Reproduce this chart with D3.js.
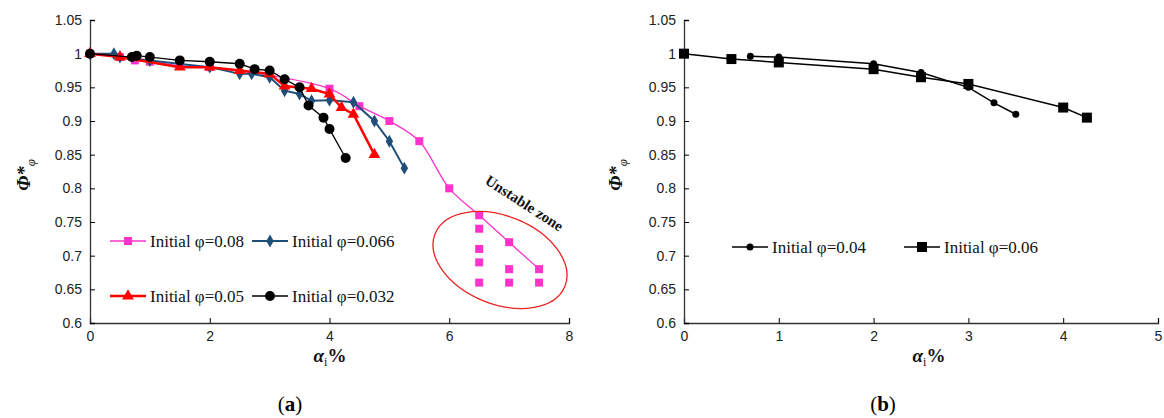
<!DOCTYPE html><html><head><meta charset="utf-8"><script src="https://cdn.jsdelivr.net/npm/d3@7"></script>
<style>body{margin:0;background:#fff}.tick text{font-family:"Liberation Sans",Arial,sans-serif}.serif{font-family:"Liberation Serif","Times New Roman",serif}</style></head><body><svg id="c" width="1164" height="418"></svg>
<script>
const yTicks=[0.6,0.65,0.7,0.75,0.8,0.85,0.9,0.95,1,1.05];
const xTicksA=[0,2,4,6,8], xTicksB=[0,1,2,3,4,5];
const s08=[[0,1],[0.5,0.995],[0.75,0.99],[1,0.988],[1.5,0.982],[2,0.98],[4,0.948],[4.5,0.922],[5,0.9],[5.5,0.87],[6,0.8],[6.5,0.76],[7,0.72],[7.5,0.68]];
const s08unstable=[[6.5,0.74],[6.5,0.71],[6.5,0.69],[6.5,0.66],[7,0.68],[7,0.66],[7.5,0.66]];
const s066=[[0,1],[0.4,1.0],[0.5,0.995],[1,0.99],[2,0.98],[2.5,0.97],[2.7,0.97],[3,0.965],[3.25,0.945],[3.5,0.94],[3.7,0.93],[4,0.931],[4.4,0.928],[4.75,0.9],[5,0.87],[5.25,0.83]];
const s05=[[0,1],[0.5,0.995],[1.5,0.98],[2,0.98],[2.5,0.975],[3,0.97],[3.25,0.952],[3.7,0.948],[4,0.94],[4.2,0.92],[4.4,0.91],[4.75,0.85]];
const s032=[[0,1],[0.7,0.995],[0.78,0.997],[1,0.995],[1.5,0.99],[2,0.988],[2.5,0.985],[2.75,0.977],[3,0.975],[3.25,0.962],[3.5,0.95],[3.65,0.923],[3.9,0.905],[4,0.888],[4.27,0.845]];
const b04=[[0.7,0.996],[1,0.995],[2,0.985],[2.5,0.972],[3,0.95],[3.27,0.927],[3.5,0.91]];
const b06=[[0,1],[0.5,0.992],[1,0.987],[2,0.977],[2.5,0.965],[3,0.955],[4,0.92],[4.25,0.905]];
const svg=d3.select("#c");
const y=d3.scaleLinear().domain([0.6,1.05]).range([323,20]);
function axes(x,xt){
  svg.append("g").attr("transform","translate(0,323)").call(d3.axisBottom(x).tickValues(xt).tickSize(-5).tickPadding(8).tickFormat(d3.format("d")))
   .call(g=>{g.select(".domain").attr("stroke","#333").attr("stroke-width",1.3);g.selectAll("text").attr("font-size",14).attr("fill","#222")});
  svg.append("g").attr("transform",`translate(${x(0)},0)`).call(d3.axisLeft(y).tickValues(yTicks).tickSize(-5).tickPadding(8).tickFormat(d=>d===1?"1":d3.format(".2f")(d).replace(/(\.\d)0$/,"$1")))
   .call(g=>{g.select(".domain").attr("stroke","#333").attr("stroke-width",1.3);g.selectAll("text").attr("font-size",14).attr("fill","#222")});
}
function marker(g,type,px,py,color,sz){
  if(type==="sq")g.append("rect").attr("x",px-sz/2).attr("y",py-sz/2).attr("width",sz).attr("height",sz).attr("fill",color);
  else if(type==="ci")g.append("circle").attr("cx",px).attr("cy",py).attr("r",sz/2).attr("fill",color);
  else if(type==="tri")g.append("path").attr("d",d3.symbol(d3.symbolTriangle,sz*sz*0.6)()).attr("transform",`translate(${px},${py})`).attr("fill",color);
  else if(type==="di")g.append("path").attr("d",d3.symbol(d3.symbolDiamond,sz*sz*0.6)()).attr("transform",`translate(${px},${py})`).attr("fill",color);
}
function series(x,data,color,type,sz,lw,curve){
  const g=svg.append("g");
  g.append("path").datum(data).attr("d",d3.line().x(d=>x(d[0])).y(d=>y(d[1])).curve(curve||d3.curveLinear)).attr("fill","none").attr("stroke",color).attr("stroke-width",lw);
  data.forEach(d=>marker(g,type,x(d[0]),y(d[1]),color,sz));
}
function legend(x0,yy,text,color,type,sz,lw){
  const g=svg.append("g");
  g.append("line").attr("x1",x0).attr("x2",x0+36).attr("y1",yy).attr("y2",yy).attr("stroke",color).attr("stroke-width",lw);
  marker(g,type,x0+18,yy,color,sz);
  g.append("text").attr("class","serif").attr("x",x0+40).attr("y",yy+6).text(text).attr("font-size",17).attr("fill","#111");
}
function ylab(xp){
  const t=svg.append("text").attr("class","serif").attr("transform",`translate(${xp},175) rotate(-90)`).attr("text-anchor","middle").attr("font-size",19).attr("font-style","italic").attr("font-weight","bold").attr("fill","#111");
  t.append("tspan").text("Φ*");t.append("tspan").text("φ").attr("font-size",13).attr("dy",5).attr("font-weight","normal");
}
function xlab(xp){
  const t=svg.append("text").attr("class","serif").attr("x",xp).attr("y",362).attr("text-anchor","middle").attr("font-size",19).attr("font-weight","bold").attr("fill","#111");
  t.append("tspan").text("α").attr("font-style","italic");t.append("tspan").text("i").attr("font-size",12).attr("dy",4).attr("font-weight","normal");t.append("tspan").text("%").attr("dy",-4);
}
const xa=d3.scaleLinear().domain([0,8]).range([90,569]);
axes(xa,xTicksA);
series(xa,s08,"#ff33cc","sq",8,1.3,d3.curveCatmullRom);
svg.append("g").selectAll("rect").data(s08unstable).join("rect").attr("x",d=>xa(d[0])-4).attr("y",d=>y(d[1])-4).attr("width",8).attr("height",8).attr("fill","#ff33cc");
series(xa,s066,"#1f4e79","di",9,2,null);
series(xa,s05,"#ff0000","tri",10,2.5,null);
series(xa,s032,"#000","ci",10,1.3,null);
svg.append("ellipse").attr("cx",500).attr("cy",260).attr("rx",70).attr("ry",44).attr("transform","rotate(22,500,260)").attr("fill","none").attr("stroke","#ee2222").attr("stroke-width",1.3);
svg.append("text").attr("class","serif").attr("transform","translate(484,183) rotate(33)").text("Unstable zone").attr("font-weight","bold").attr("font-size",15).attr("fill","#111");
legend(110,241,"Initial φ=0.08","#ff33cc","sq",8,1.3);
legend(252,241,"Initial φ=0.066","#1f4e79","di",9,2);
legend(110,296,"Initial φ=0.05","#ff0000","tri",10,2.5);
legend(252,296,"Initial φ=0.032","#000","ci",10,1.3);
ylab(30);xlab(330);
const xb=d3.scaleLinear().domain([0,5]).range([684,1158]);
axes(xb,xTicksB);
series(xb,b04,"#000","ci",7,1.5,null);
series(xb,b06,"#000","sq",10,1.5,null);
legend(732,247,"Initial φ=0.04","#000","ci",7,1.5);
legend(904,247,"Initial φ=0.06","#000","sq",10,1.5);
ylab(622);xlab(929);
svg.append("text").attr("class","serif").attr("x",290).attr("y",411).attr("text-anchor","middle").attr("font-size",21).html('(<tspan font-weight="bold">a</tspan>)');
svg.append("text").attr("class","serif").attr("x",883).attr("y",411).attr("text-anchor","middle").attr("font-size",21).html('(<tspan font-weight="bold">b</tspan>)');
</script></body></html>
